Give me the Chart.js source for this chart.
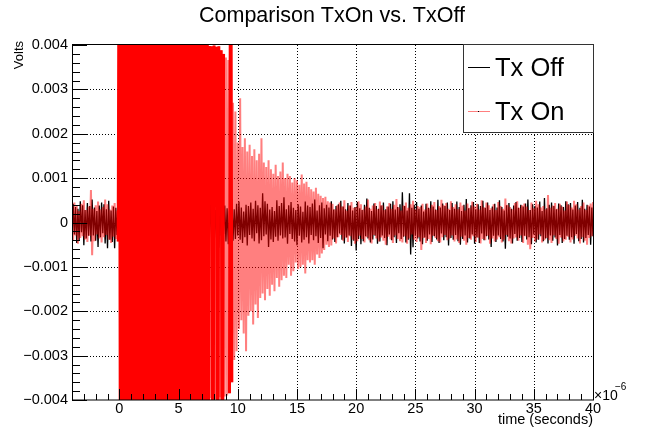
<!DOCTYPE html>
<html>
<head>
<meta charset="utf-8">
<script src="https://cdn.jsdelivr.net/npm/chart.js@4/dist/chart.umd.min.js"></script>
<style>
  html, body { margin: 0; padding: 0; background: #fff; }
  #wrap { width: 650px; height: 434px; }
</style>
</head>
<body>
<div id="wrap"><canvas id="scope" width="650" height="434"></canvas></div>
<script>
const chartTitle = 'Comparison TxOn vs. TxOff';
const seriesNames = ['Tx Off', 'Tx On'];
const xTitle = 'time (seconds)';
const yTitle = 'Volts';

// time window in microseconds, samples spread evenly over it
const tStart = -4;
const tEnd = 40;
// samples below are in units of 10 microvolts
const yUnit = 1e-5;

const txOff = [
  -38,42,-27,35,-46,31,-40,48,-22,39,-51,28,-36,44,-30,37,-43,52,-29,34,
  -41,26,-55,38,-33,45,-24,41,-47,30,-58,49,-39,27,-44,36,-58,33,-28,46,
  -37,40,-25,53,-42,29,-48,35,-31,43,-36,24,-50,38,-27,47,-40,32,-45,56,
  -30,39,-43,28,-34,50,-26,37,-49,41,-32,29,-46,44,-38,33,-23,48,-41,36,
  -52,31,-29,42,-37,27,-44,60,-35,38,-40,25,-48,34,-31,46,-27,39,-54,30,
  -36,45,-42,33,-28,51,-39,26,-47,40,-33,37,-25,43,-50,29,-38,47,-32,35,
  -45,28,-34,41,-57,36,-30,44,-26,38,-43,32,-49,27,-35,53,-41,30,-37,42,
  -29,47,-39,34,-46,25,-33,40,-52,37,-28,45,-36,31,-42,49,-24,39,-47,33,
  -40,66,-31,48,-27,42,-55,29,-38,35,-44,26,-32,50,-41,37,-29,44,-36,57,
  -34,30,-48,39,-26,46,-37,33,-43,28,-51,41,-30,36,-45,24,-39,47,-33,38,
  -47,35,-28,43,-40,52,-31,27,-46,39,-35,45,-58,32,-27,40,-42,34,-30,48,
  -38,29,-44,37,-33,41,-25,49,-39,36,-47,30,-34,44,-29,38,-53,27,-41,35,
  -63,46,-37,32,-49,28,-42,40,-31,54,-36,33,-45,26,-38,43,-30,37,-48,31,
  -43,38,-29,45,-35,30,-51,36,-27,42,-40,48,-33,29,-46,35,-24,41,-37,68,
  -32,37,-45,27,-39,66,-72,33,-56,40,-30,46,-36,31,-43,38,-49,25,-34,42,
  -41,33,-27,48,-44,36,-31,29,-38,51,-46,34,-25,43,-40,37,-33,45,-52,28,
  -35,44,-39,31,-28,47,-42,35,-50,26,-37,40,-29,53,-45,32,-36,39,-27,46,
  -48,30,-34,41,-46,37,-25,49,-40,33,-31,45,-38,28,-55,36,-30,42,-44,34,
  -29,50,-37,35,-43,27,-59,39,-32,44,-36,31,-47,38,-26,46,-41,33,-35,40,
  -44,36,-30,43,-38,52,-33,28,-49,41,-27,37,-45,34,-39,47,-31,26,-42,55,
  -36,32,-47,40,-29,45,-41,37,-34,30,-52,43,-28,39,-46,35,-37,48,-30,41,
  -39,44,-33,29,-48,38,-26,46,-42,33,-37,51,-45,31,-35,40,-28,36,-50,34,
  -31
];

const txOn = [
  33,-40,45,-29,37,-48,26,-35,42,-31,50,-38,28,-44,36,-30,73,-74,31,-42,
  39,-27,47,-36,30,-45,35,-33,52,-28,41,-39,29,-46,38,-32,44,-37,27,-43,
  880,-910,940,-870,900,-950,860,-920,930,-890,910,-860,950,-900,870,-940,920,-880,890,-930,
  900,-870,940,-910,860,-950,920,-890,880,-930,950,-860,910,-900,870,-940,930,-880,890,-920,
  860,-900,940,-880,920,-950,890,-870,930,-910,870,-940,900,-860,950,-890,880,-920,910,-930,
  920,-880,900,-950,870,-910,940,-860,890,-930,900,-880,910,-900,870,-890,398,-396,397,-900,
  399,-398,396,-900,397,-394,388,-900,380,-392,372,-390,366,-385,900,-360,270,-310,250,-290,
  180,-240,280,-220,170,-250,190,-290,160,-210,175,-200,150,-230,165,-185,140,-215,155,-170,
  190,-160,135,-175,125,-150,140,-165,120,-140,110,-155,130,-125,105,-145,115,-130,135,-120,
  100,-125,110,-95,105,-120,90,-110,100,-90,95,-105,85,-100,108,-95,88,-115,92,-85,
  80,-90,75,-85,70,-95,78,-72,65,-80,60,-70,55,-62,58,-50,48,-55,45,-52,
  42,-36,30,-47,39,-33,45,-28,36,-41,50,-34,27,-44,38,-31,46,-39,33,-48,
  35,-42,48,-30,41,-37,29,-45,36,-33,52,-40,31,-47,38,-28,44,-36,30,-43,
  47,-34,39,-41,28,-50,36,-32,44,-38,31,-46,40,-29,53,-37,34,-42,27,-45,
  38,-31,45,-48,33,-36,41,-27,49,-39,30,-44,37,-33,35,-62,42,-35,29,-46,
  43,-37,32,-49,40,-30,46,-35,28,-42,37,-45,51,-33,39,-28,44,-40,31,-36,
  48,-29,35,-43,41,-38,30,-46,45,-32,38,-41,27,-50,43,-35,33,-39,47,-31,
  36,-44,42,-34,29,-47,50,-37,34,-40,45,-30,39,-48,32,-36,41,-43,28,-38,
  46,-33,37,-45,31,-39,54,-28,40,-42,35,-47,30,-36,44,-34,48,-41,33,-29,
  39,-46,43,-31,36,-50,28,-60,45,-35,32,-43,49,-38,41,-27,34,-45,37,-40,
  30,-35,62,-40,33,-46,38,-29,44,-37,31,-48,42,-34,36,-43,27,-39,47,-32,
  40,-45,34,-38,49,-30,41,-36,29,-47,37,-33,45,-41,28,-50,39,-35,43,-31,
  46
];

const xTicks = [0, 5, 10, 15, 20, 25, 30, 35, 40];
const xTickLabels = ['0', '5', '10', '15', '20', '25', '30', '35', '40'];
const yTicks = [0.004, 0.003, 0.002, 0.001, 0, -0.001, -0.002, -0.003, -0.004];
const yTickLabels = ['0.004', '0.003', '0.002', '0.001', '0', '\u22120.001', '\u22120.002', '\u22120.003', '\u22120.004'];

const font = '"Liberation Sans", Arial, Helvetica, sans-serif';
const onColor = 'rgba(255,0,0,0.5)';
const burstColor = 'rgb(255,0,0)';
const yMin = -0.004, yMax = 0.004;

function toPoints(vals) {
  const dt = (tEnd - tStart) / (vals.length - 1);
  return vals.map((v, i) => ({ x: tStart + i * dt, y: v === null ? null : v * yUnit }));
}

// samples that leave the frame (and their neighbours) -> saturated strokes, drawn solid on top
const clipped = v => Math.abs(v) * yUnit > yMax;
const txOnSaturated = txOn.map((v, i) =>
  (clipped(v) || (i > 0 && clipped(txOn[i - 1])) || (i < txOn.length - 1 && clipped(txOn[i + 1]))) ? v : null
);

const rootStyle = {
  id: 'rootStyle',
  beforeDatasetsDraw(chart) {
    const { ctx, chartArea: a, scales: { x, y } } = chart;
    ctx.save();
    ctx.strokeStyle = '#000';
    ctx.lineWidth = 1;
    ctx.setLineDash([1, 2]);
    ctx.beginPath();
    xTicks.forEach(v => {
      const px = Math.round(x.getPixelForValue(v)) + 0.5;
      if (px > a.left + 2 && px < a.right - 2) {
        ctx.moveTo(px, a.top);
        ctx.lineTo(px, a.bottom);
      }
    });
    yTicks.forEach(v => {
      const py = Math.round(y.getPixelForValue(v)) + 0.5;
      if (py > a.top + 2 && py < a.bottom - 2) {
        ctx.moveTo(a.left, py);
        ctx.lineTo(a.right, py);
      }
    });
    ctx.stroke();
    ctx.restore();
  },
  afterDatasetsDraw(chart) {
    const { ctx, chartArea: a, scales: { x, y } } = chart;
    ctx.save();
    ctx.strokeStyle = '#000';
    ctx.lineWidth = 1;
    ctx.strokeRect(a.left + 0.5, a.top - 0.5, a.right - a.left, a.bottom - a.top + 0.5);

    // ticks, ROOT style: inside the frame
    ctx.beginPath();
    for (let k = -20; k <= 20; k++) {
      const py = Math.round(y.getPixelForValue(k * 0.0002)) + 0.5;
      const len = k % 5 === 0 ? 15 : 8;
      ctx.moveTo(a.left, py);
      ctx.lineTo(a.left + len, py);
    }
    for (let t = -4; t <= 40; t++) {
      const px = Math.round(x.getPixelForValue(t)) + 0.5;
      const len = t % 5 === 0 ? 11 : 6;
      ctx.moveTo(px, a.bottom);
      ctx.lineTo(px, a.bottom - len);
    }
    ctx.stroke();

    ctx.fillStyle = '#000';
    ctx.font = '14.5px ' + font;
    ctx.textAlign = 'right';
    ctx.textBaseline = 'middle';
    yTicks.forEach((v, i) => ctx.fillText(yTickLabels[i], a.left - 4, y.getPixelForValue(v)));

    ctx.textAlign = 'center';
    ctx.textBaseline = 'alphabetic';
    xTicks.forEach((v, i) => ctx.fillText(xTickLabels[i], x.getPixelForValue(v), a.bottom + 13));

    ctx.textAlign = 'right';
    ctx.fillText(xTitle, a.right, a.bottom + 24);

    ctx.textAlign = 'left';
    ctx.font = '14px ' + font;
    ctx.fillText('\u00d710', a.right + 1, a.bottom);
    ctx.font = '10px ' + font;
    ctx.fillText('\u22126', a.right + 22, a.bottom - 10);

    ctx.save();
    ctx.translate(23, 41);
    ctx.rotate(-Math.PI / 2);
    ctx.font = '13px ' + font;
    ctx.textAlign = 'right';
    ctx.fillText(yTitle, 0, 0);
    ctx.restore();

    ctx.font = '21.5px ' + font;
    ctx.textAlign = 'center';
    ctx.fillText(chartTitle, 332, 22);

    // legend box
    const lx = a.right - 130, ly = a.top, lw = 130, lh = 88;
    ctx.fillStyle = '#fff';
    ctx.fillRect(lx, ly, lw, lh);
    ctx.strokeStyle = '#333';
    ctx.strokeRect(lx + 0.5, ly - 0.5, lw, lh);
    const rows = [
      { label: seriesNames[0], color: '#000', yc: ly + 22 },
      { label: seriesNames[1], color: onColor, yc: ly + 66 }
    ];
    ctx.font = '25.5px ' + font;
    ctx.textAlign = 'left';
    rows.forEach(r => {
      ctx.strokeStyle = r.color;
      ctx.beginPath();
      ctx.moveTo(lx + 5, r.yc + 0.5);
      ctx.lineTo(lx + 27, r.yc + 0.5);
      ctx.stroke();
      ctx.fillStyle = '#000';
      ctx.fillRect(lx + 15, r.yc, 1, 1);
      ctx.fillText(r.label, lx + 32, r.yc + 9);
    });
    ctx.restore();
  }
};

new Chart(document.getElementById('scope'), {
  type: 'line',
  data: {
    datasets: [
      {
        label: seriesNames[0],
        data: toPoints(txOff),
        borderColor: '#000',
        borderWidth: 1.3,
        pointRadius: 0,
        order: 3,
        clip: 0
      },
      {
        label: seriesNames[1],
        data: toPoints(txOn),
        borderColor: onColor,
        borderWidth: 2,
        pointRadius: 0,
        order: 2,
        clip: 0
      },
      {
        label: seriesNames[1] + ' (saturated)',
        data: toPoints(txOnSaturated),
        borderColor: burstColor,
        borderWidth: 3,
        pointRadius: 0,
        spanGaps: false,
        order: 1,
        clip: 0
      }
    ]
  },
  options: {
    responsive: false,
    animation: false,
    devicePixelRatio: 1,
    events: [],
    layout: { padding: { left: 72, top: 45, right: 57, bottom: 34 } },
    scales: {
      x: { type: 'linear', min: tStart, max: tEnd, display: false },
      y: { type: 'linear', min: yMin, max: yMax, display: false }
    },
    plugins: {
      legend: { display: false },
      tooltip: { enabled: false },
      title: { display: false }
    }
  },
  plugins: [rootStyle]
});
</script>
</body>
</html>
